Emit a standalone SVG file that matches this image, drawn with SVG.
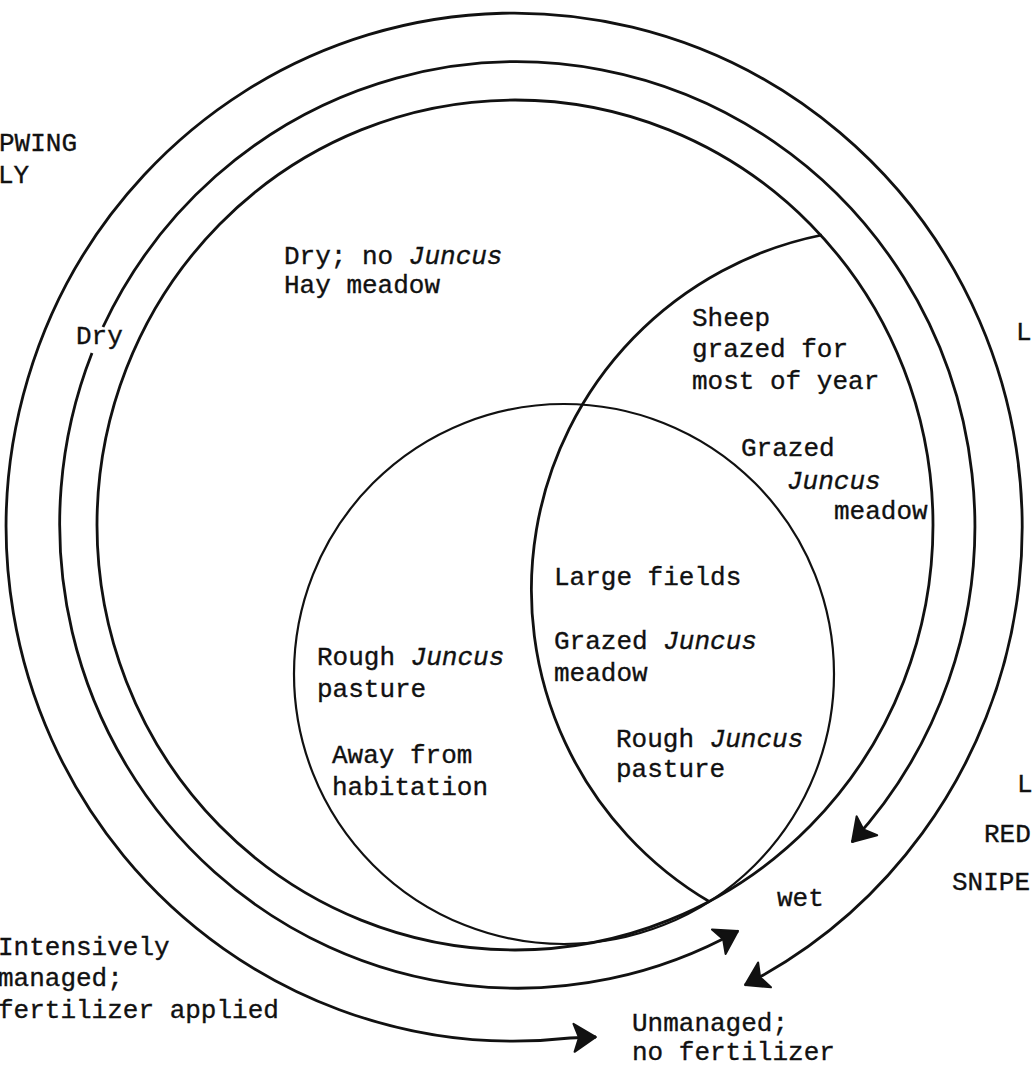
<svg xmlns="http://www.w3.org/2000/svg" width="1033" height="1068" viewBox="0 0 1033 1068">
<style>
.ring{fill:none;stroke:#111;stroke-width:2.8;stroke-linecap:butt}
.circ{fill:none;stroke:#111;stroke-width:2.2}
.t{font-family:"Liberation Mono","Courier New",monospace;font-size:26px;fill:#111;stroke:#111;stroke-width:0.35}
.i{font-style:italic}
</style>
<defs>
<marker id="ah" viewBox="-25 -17 27 34" refX="0" refY="0" markerWidth="27" markerHeight="34" markerUnits="userSpaceOnUse" orient="auto-start-reverse">
<path d="M0,0 L-22,-14 L-17,0 L-22,14 Z" fill="#111" stroke="#111" stroke-width="2" stroke-linejoin="round"/>
</marker>
</defs>
<rect width="1033" height="1068" fill="#fff"/>
<g id="connectors">
<path id="outer-ring" class="ring" d="M 596 1037 L 570 1038 A 508 514 0 1 1 745 985" marker-start="url(#ah)" marker-end="url(#ah)"/>
<path id="middle-ring-top" class="ring" d="M 103 327 A 458 464 0 1 1 852 842" marker-end="url(#ah)"/>
<path id="middle-ring-bottom" class="ring" d="M 92 353 A 458 464 0 0 0 738 931" marker-end="url(#ah)"/>
</g>
<g id="inner-ring"><ellipse class="ring" cx="515" cy="525" rx="418" ry="425"/></g>
<g id="circle-rough"><circle class="circ" cx="564" cy="674" r="270"/></g>
<g id="circle-sheep"><path class="ring" d="M 822 235 A 362 362 0 0 0 710 902"/></g>
<g id="labels">
<text class="t" x="-1" y="151">PWING</text>
<text class="t" x="-2" y="183">LY</text>
<text class="t" x="76" y="344">Dry</text>
<text class="t" x="284" y="264">Dry; no <tspan class="i">Juncus</tspan></text>
<text class="t" x="284" y="293">Hay meadow</text>
<text class="t" x="692" y="326">Sheep</text>
<text class="t" x="692" y="357">grazed for</text>
<text class="t" x="692" y="389">most of year</text>
<text class="t" x="741" y="456">Grazed</text>
<text class="t i" x="787" y="489">Juncus</text>
<text class="t" x="834" y="519">meadow</text>
<text class="t" x="554" y="585">Large fields</text>
<text class="t" x="554" y="649">Grazed <tspan class="i">Juncus</tspan></text>
<text class="t" x="554" y="681">meadow</text>
<text class="t" x="317" y="665">Rough <tspan class="i">Juncus</tspan></text>
<text class="t" x="317" y="697">pasture</text>
<text class="t" x="332" y="763">Away from</text>
<text class="t" x="332" y="795">habitation</text>
<text class="t" x="616" y="747">Rough <tspan class="i">Juncus</tspan></text>
<text class="t" x="616" y="777">pasture</text>
<text class="t" x="777" y="906">wet</text>
<text class="t" x="-2" y="955">Intensively</text>
<text class="t" x="-2" y="986">managed;</text>
<text class="t" x="-2" y="1018">fertilizer applied</text>
<text class="t" x="632" y="1031">Unmanaged;</text>
<text class="t" x="632" y="1060">no fertilizer</text>
<text class="t" x="1016" y="340">L</text>
<text class="t" x="1017" y="792">L</text>
<text class="t" x="984" y="842">RED</text>
<text class="t" x="952" y="890">SNIPE</text>
</g>
</svg>
